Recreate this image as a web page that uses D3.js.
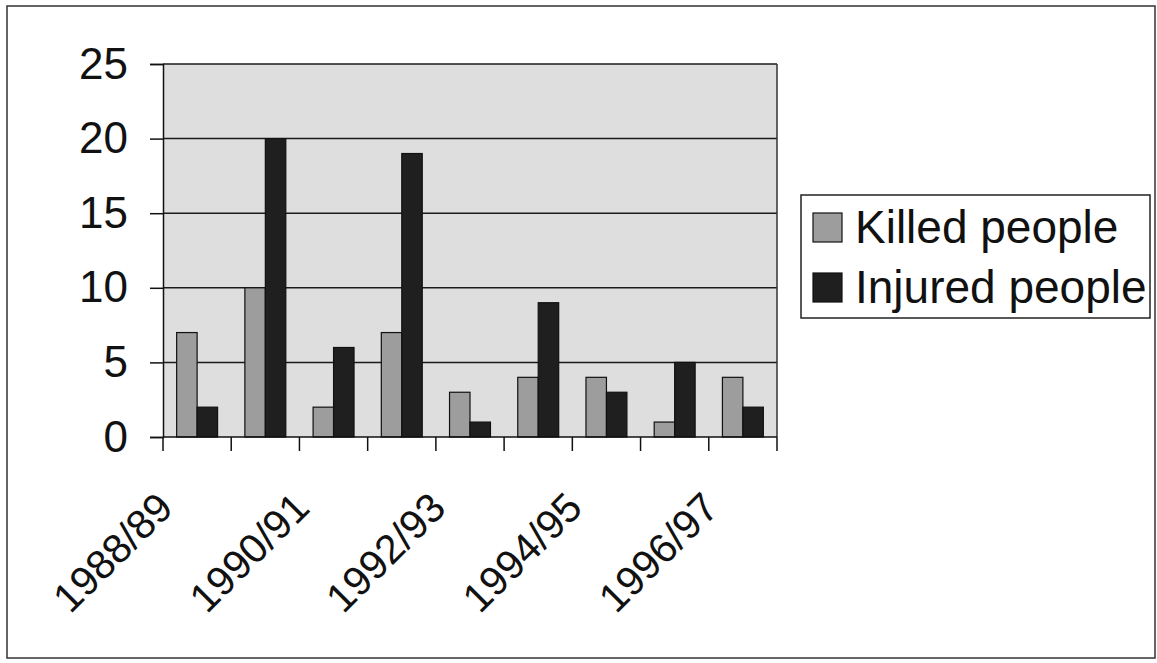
<!DOCTYPE html>
<html>
<head>
<meta charset="utf-8">
<script src="https://cdn.jsdelivr.net/npm/d3@7"></script>
<style>
  body { margin: 0; background: #fff; }
  svg text { font-family: "Liberation Sans", Arial, sans-serif; fill: #111; }
</style>
</head>
<body>
<div id="chart"></div>
<script>
// data
var seasons = ['1988/89', '1989/90', '1990/91', '1991/92', '1992/93', '1993/94', '1994/95', '1995/96', '1996/97']
var killed = [7, 10, 2, 7, 3, 4, 4, 1, 4]
var injured = [2, 20, 6, 19, 1, 9, 3, 5, 2]
var seriesNames = ['Killed people', 'Injured people']
var seriesColors = ['#9d9d9d', '#1f1f1f']
var yTicks = [0, 5, 10, 15, 20, 25]

var width = 1157
var height = 663
var plot = { left: 163, right: 777, top: 64, bottom: 437 }

var svg = d3.select('#chart')
  .append('svg')
  .attr('width', width)
  .attr('height', height)

// outer frame
svg.append('rect')
  .attr('x', 7).attr('y', 6)
  .attr('width', 1148).attr('height', 652)
  .attr('fill', 'none')
  .attr('stroke', '#333')
  .attr('stroke-width', 1.5)

var x0 = d3.scaleBand()
  .domain(seasons)
  .range([plot.left, plot.right])

var x1 = d3.scaleBand()
  .domain(seriesNames)
  .range([x0.bandwidth() * 0.2, x0.bandwidth() * 0.8])

var y = d3.scaleLinear()
  .domain([0, 25])
  .range([plot.bottom, plot.top])

// plot background
svg.append('rect')
  .attr('x', plot.left).attr('y', plot.top)
  .attr('width', plot.right - plot.left)
  .attr('height', plot.bottom - plot.top)
  .attr('fill', '#dedede')

// gridlines
svg.append('g')
  .selectAll('line')
  .data(yTicks.slice(1))
  .join('line')
  .attr('x1', plot.left).attr('x2', plot.right)
  .attr('y1', d => y(d)).attr('y2', d => y(d))
  .attr('stroke', '#1a1a1a')
  .attr('stroke-width', 1.5)

// right edge of plot area
svg.append('line')
  .attr('x1', plot.right).attr('x2', plot.right)
  .attr('y1', plot.top).attr('y2', plot.bottom)
  .attr('stroke', '#333')
  .attr('stroke-width', 1.5)

// bars
var rows = seasons.map((s, i) => ({ season: s, values: [killed[i], injured[i]] }))

svg.append('g')
  .selectAll('g')
  .data(rows)
  .join('g')
  .attr('transform', d => 'translate(' + x0(d.season) + ',0)')
  .selectAll('rect')
  .data(d => d.values.map((v, j) => ({ name: seriesNames[j], value: v, color: seriesColors[j] })))
  .join('rect')
  .attr('x', d => x1(d.name))
  .attr('width', x1.bandwidth())
  .attr('y', d => y(d.value))
  .attr('height', d => y(0) - y(d.value))
  .attr('fill', d => d.color)
  .attr('stroke', '#111')
  .attr('stroke-width', 1.2)

// y axis
var yAxis = svg.append('g')
  .attr('transform', 'translate(' + plot.left + ',0)')
  .call(d3.axisLeft(y).tickValues(yTicks).tickSize(13).tickPadding(22))

yAxis.select('.domain').attr('stroke', '#111').attr('stroke-width', 1.5)
yAxis.selectAll('.tick line').attr('stroke', '#111').attr('stroke-width', 1.5)
yAxis.selectAll('.tick text')
  .attr('font-size', 44)
  .attr('font-family', '"Liberation Sans", Arial, sans-serif')
  .attr('fill', '#111')

// x axis: ticks on category boundaries, labels every other season
var xAxis = svg.append('g')
  .attr('transform', 'translate(0,' + plot.bottom + ')')

xAxis.append('line')
  .attr('x1', plot.left).attr('x2', plot.right)
  .attr('stroke', '#111')
  .attr('stroke-width', 1.5)

var boundaries = seasons.map(s => x0(s)).concat([plot.right])
xAxis.selectAll('.xtick')
  .data(boundaries)
  .join('line')
  .attr('class', 'xtick')
  .attr('x1', d => d).attr('x2', d => d)
  .attr('y1', 0).attr('y2', 14)
  .attr('stroke', '#111')
  .attr('stroke-width', 1.5)

xAxis.selectAll('.xlabel')
  .data(seasons.filter((s, i) => i % 2 === 0))
  .join('text')
  .attr('class', 'xlabel')
  .attr('transform', d => 'translate(' + (x0(d) + x0.bandwidth() / 2 - 22) + ',73) rotate(-45)')
  .attr('text-anchor', 'end')
  .attr('font-size', 41)
  .text(d => d)

// legend
var legend = svg.append('g')

legend.append('rect')
  .attr('x', 801).attr('y', 195)
  .attr('width', 349).attr('height', 123)
  .attr('fill', '#fff')
  .attr('stroke', '#222')
  .attr('stroke-width', 1.5)

var items = legend.selectAll('.item')
  .data(seriesNames)
  .join('g')
  .attr('class', 'item')
  .attr('transform', (d, i) => 'translate(813,' + (213 + i * 60) + ')')

items.append('rect')
  .attr('width', 29).attr('height', 29)
  .attr('fill', (d, i) => seriesColors[i])
  .attr('stroke', '#111')
  .attr('stroke-width', 1.2)

items.append('text')
  .attr('x', 42)
  .attr('y', 30)
  .attr('font-size', 46)
  .text(d => d)
</script>
</body>
</html>
